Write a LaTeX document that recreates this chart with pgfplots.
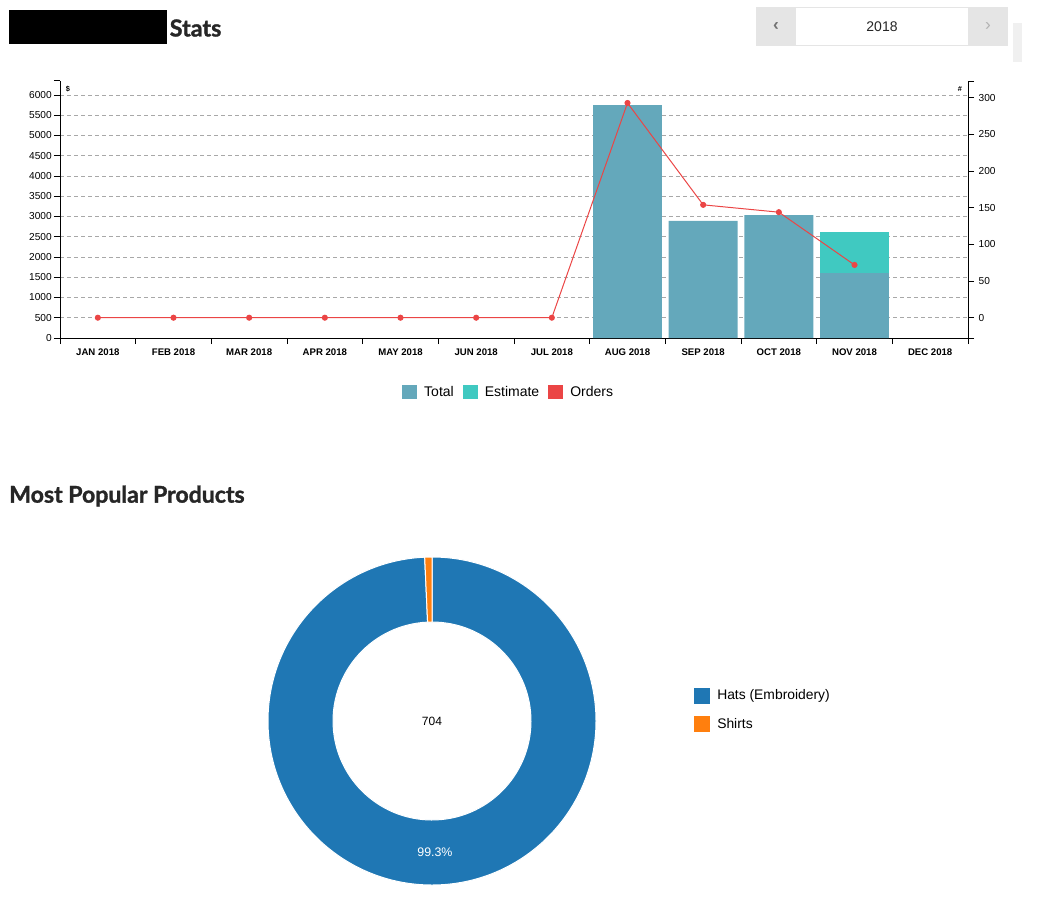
\documentclass[border=0pt]{standalone}
\usepackage{fontspec}
\setmainfont{Liberation Sans}
\newfontfamily\headfont{Lato}[BoldFeatures={FakeBold=1.3}]
\usepackage{pgfplots}
\pgfplotsset{compat=1.18}
\definecolor{totalc}{HTML}{64A8BB}
\definecolor{estc}{HTML}{40C9C1}
\definecolor{ordc}{HTML}{EB4545}
\definecolor{hatsc}{HTML}{1F77B4}
\definecolor{shirtc}{HTML}{FF7F0E}
\definecolor{gridc}{HTML}{A8A8A8}
\def\nhats{699}
\def\nshirts{5}
\begin{document}
\begin{tikzpicture}
\path[use as bounding box] (0,0) rectangle (792pt,-688.5pt);
\begin{scope}[x=0.75pt,y=-0.75pt]
 \fill[black] (9,10) rectangle (167,44);
 \node[anchor=west, inner sep=0, font=\headfont\bfseries\fontsize{17.5}{21}\selectfont, text=black!85] at (169.5,28) {Stats};
 \fill[black!10] (756,7) rectangle (1008,46);
 \fill[white] (796,8) rectangle (968,45);
 \fill[black!6] (1013,23) rectangle (1022,62);
 \node[font=\bfseries\fontsize{13}{14}\selectfont, text=black!55] at (776,27) {‹};
 \node[font=\fontsize{13}{14}\selectfont, text=black!30] at (988,27) {›};
 \node[font=\fontsize{10.5}{12}\selectfont, text=black!85] at (882,27) {2018};
 \node[anchor=west, inner sep=0, font=\headfont\bfseries\fontsize{17.3}{21}\selectfont, text=black!85] at (9,496) {Most Popular Products};
 \node[font=\bfseries\fontsize{5.5}{6}\selectfont] at (68,89) {\$};
 \node[font=\bfseries\fontsize{5.5}{6}\selectfont] at (960,89) {\#};
\end{scope}

\begin{axis}[
  at={(45pt,-253.5pt)}, anchor=south west,
  width=681pt, height=192.75pt, scale only axis,
  xmin=-0.5, xmax=11.5, ymin=0, ymax=6346,
  axis x line*=bottom, axis y line*=left,
  axis line style={-, black, line width=0.75pt},
  ybar stacked, bar width=0.91,
  xtick={-0.5,0.5,...,11.5}, x tick label as interval,
  xticklabels={JAN 2018,FEB 2018,MAR 2018,APR 2018,MAY 2018,JUN 2018,JUL 2018,AUG 2018,SEP 2018,OCT 2018,NOV 2018,DEC 2018},
  ytick={0,500,...,6000},
  extra y ticks={6346}, extra y tick labels={}, extra y tick style={grid=none},
  tick align=outside, major tick length=4.5pt,
  tick style={black, line width=0.75pt},
  ymajorgrids, grid style={gridc, dash pattern=on 3pt off 2.25pt, line width=0.6pt},
  x tick label style={font=\bfseries\fontsize{7.2}{8}\selectfont},
  y tick label style={font=\fontsize{7.6}{9}\selectfont, inner sep=1.5pt},
  /pgf/number format/assume math mode=true, /pgf/number format/1000 sep={},
  legend style={draw=none, fill=none, at={(0.493,-0.21)}, anchor=center,
    legend columns=3, font=\fontsize{10.5}{12}\selectfont,
    nodes={inner sep=0pt},
    /tikz/every odd column/.append style={column sep=5.25pt},
    /tikz/every even column/.append style={column sep=6.75pt}},
  legend image code/.code={\fill[#1, draw=none] (0pt,-5.6pt) rectangle (11.25pt,5.6pt);},
]
\addlegendimage{fill=totalc}\addlegendentry{Total}
\addlegendimage{fill=estc}\addlegendentry{Estimate}
\addlegendimage{fill=ordc}\addlegendentry{Orders}
\addplot[fill=totalc, draw=none] coordinates {(0,0)(1,0)(2,0)(3,0)(4,0)(5,0)(6,0)(7,5753)(8,2890)(9,3037)(10,1605)(11,0)};
\addplot[fill=estc, draw=none] coordinates {(0,0)(1,0)(2,0)(3,0)(4,0)(5,0)(6,0)(7,0)(8,0)(9,0)(10,1012)(11,0)};
\end{axis}

\begin{axis}[
  at={(45pt,-253.5pt)}, anchor=south west,
  width=681pt, height=192.75pt, scale only axis,
  xmin=-0.5, xmax=11.5, ymin=-27.7, ymax=323,
  axis x line=none, axis y line*=right,
  axis line style={-, black, line width=0.75pt},
  ytick={0,50,...,300},
  extra y ticks={-27.7,323}, extra y tick labels={},
  tick align=outside, major tick length=4.5pt,
  tick style={black, line width=0.75pt},
  y tick label style={font=\fontsize{7.6}{9}\selectfont},
  /pgf/number format/assume math mode=true, /pgf/number format/1000 sep={},
  clip=false,
]
\addplot[ordc, line width=0.75pt, mark=*, mark size=1.9pt, mark options={fill=ordc, draw=ordc}] coordinates {(0,0)(1,0)(2,0)(3,0)(4,0)(5,0)(6,0)(7,293)(8,154)(9,144)(10,72)};
\end{axis}

\pgfmathsetmacro\total{\nhats+\nshirts}
\pgfmathsetmacro\aone{90-\nhats/\total*360}
\pgfmathsetmacro\amid{(90+\aone)/2}
\begin{axis}[
  at={(324pt,-540.75pt)}, anchor=center,
  width=246pt, height=246pt, scale only axis,
  xmin=-1, xmax=1, ymin=-1, ymax=1, hide axis, clip=false,
]
\addplot[draw=none] coordinates {(0,0)};
\fill[hatsc, draw=white, line width=0.75pt] ([shift={(90:123pt)}]axis cs:0,0) arc[start angle=90, end angle=\aone, radius=123pt] -- ([shift={(\aone:74.25pt)}]axis cs:0,0) arc[start angle=\aone, end angle=90, radius=74.25pt] -- cycle;
\fill[shirtc, draw=white, line width=0.75pt] ([shift={(\aone:123pt)}]axis cs:0,0) arc[start angle=\aone, end angle=-270, radius=123pt] -- ([shift={(-270:74.25pt)}]axis cs:0,0) arc[start angle=-270, end angle=\aone, radius=74.25pt] -- cycle;
\node[text=white, font=\fontsize{9.3}{11}\selectfont] at ([shift={(\amid:98.6pt)}]axis cs:0,0) {99.3\%};
\node[font=\fontsize{9}{11}\selectfont] at (axis cs:0,0) {704};
\end{axis}

\begin{scope}[x=0.75pt,y=-0.75pt]
 \fill[hatsc] (694,688) rectangle (710,704);
 \fill[shirtc] (694,716) rectangle (710,732);
 \node[anchor=west, inner sep=0, font=\fontsize{10.4}{12}\selectfont] at (717,696) {Hats (Embroidery)};
 \node[anchor=west, inner sep=0, font=\fontsize{10.4}{12}\selectfont] at (717,724) {Shirts};
\end{scope}
\end{tikzpicture}
\end{document}
